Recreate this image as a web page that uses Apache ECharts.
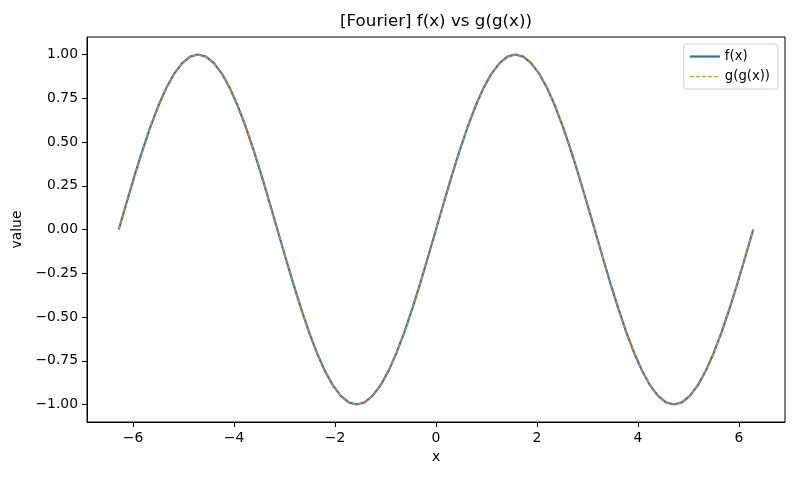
<!DOCTYPE html>
<html>
<head>
<meta charset="utf-8">
<script src="https://cdn.jsdelivr.net/npm/echarts@6/dist/echarts.min.js"></script>
<style>
  html, body { margin: 0; padding: 0; background: #fff; }
  #chart { width: 800px; height: 480px; }
</style>
</head>
<body>
<div id="chart"></div>
<script>
// sample positions along x (about -2pi .. 2pi)
const xs = [-6.283, -6.126, -5.969, -5.812, -5.655, -5.498, -5.341, -5.184, -5.027, -4.869,
  -4.712, -4.555, -4.398, -4.241, -4.084, -3.927, -3.770, -3.613, -3.456, -3.299,
  -3.142, -2.985, -2.827, -2.670, -2.513, -2.356, -2.199, -2.042, -1.885, -1.728,
  -1.571, -1.414, -1.257, -1.100, -0.942, -0.785, -0.628, -0.471, -0.314, -0.157,
  0.000, 0.157, 0.314, 0.471, 0.628, 0.785, 0.942, 1.100, 1.257, 1.414,
  1.571, 1.728, 1.885, 2.042, 2.199, 2.356, 2.513, 2.670, 2.827, 2.985,
  3.142, 3.299, 3.456, 3.613, 3.770, 3.927, 4.084, 4.241, 4.398, 4.555,
  4.712, 4.869, 5.027, 5.184, 5.341, 5.498, 5.655, 5.812, 5.969, 6.126, 6.283];
// values
const fVals = [0.000, 0.156, 0.309, 0.454, 0.588, 0.707, 0.809, 0.891, 0.951, 0.988,
  1.000, 0.988, 0.951, 0.891, 0.809, 0.707, 0.588, 0.454, 0.309, 0.156,
  0.000, -0.156, -0.309, -0.454, -0.588, -0.707, -0.809, -0.891, -0.951, -0.988,
  -1.000, -0.988, -0.951, -0.891, -0.809, -0.707, -0.588, -0.454, -0.309, -0.156,
  0.000, 0.156, 0.309, 0.454, 0.588, 0.707, 0.809, 0.891, 0.951, 0.988,
  1.000, 0.988, 0.951, 0.891, 0.809, 0.707, 0.588, 0.454, 0.309, 0.156,
  0.000, -0.156, -0.309, -0.454, -0.588, -0.707, -0.809, -0.891, -0.951, -0.988,
  -1.000, -0.988, -0.951, -0.891, -0.809, -0.707, -0.588, -0.454, -0.309, -0.156, 0.000];
const ggVals = [0.000, 0.156, 0.309, 0.454, 0.588, 0.707, 0.809, 0.891, 0.951, 0.988,
  1.000, 0.988, 0.951, 0.891, 0.809, 0.707, 0.588, 0.454, 0.309, 0.156,
  0.000, -0.156, -0.309, -0.454, -0.588, -0.707, -0.809, -0.891, -0.951, -0.988,
  -1.000, -0.988, -0.951, -0.891, -0.809, -0.707, -0.588, -0.454, -0.309, -0.156,
  0.000, 0.156, 0.309, 0.454, 0.588, 0.707, 0.809, 0.891, 0.951, 0.988,
  1.000, 0.988, 0.951, 0.891, 0.809, 0.707, 0.588, 0.454, 0.309, 0.156,
  0.000, -0.156, -0.309, -0.454, -0.588, -0.707, -0.809, -0.891, -0.951, -0.988,
  -1.000, -0.988, -0.951, -0.891, -0.809, -0.707, -0.588, -0.454, -0.309, -0.156, 0.000];
const xTicks = [-6, -4, -2, 0, 2, 4, 6];
const yTicks = [-1, -0.75, -0.5, -0.25, 0, 0.25, 0.5, 0.75, 1];

const font = 'DejaVu Sans';
const minus = (s) => s.replace('-', '\u2212');

const chart = echarts.init(document.getElementById('chart'));
const option = {
  animation: false,
  backgroundColor: '#fff',
  textStyle: { fontFamily: font },
  graphic: [{
    type: 'text', x: 436, y: 22,
    style: { text: '[Fourier] f(x) vs g(g(x))', font: '16.7px "DejaVu Sans"', fill: '#000',
      textAlign: 'center', textVerticalAlign: 'middle' }
  }],
  grid: {
    left: 87, right: 15, top: 37, bottom: 58,
    show: true, borderColor: '#000', borderWidth: 1
  },
  legend: {
    orient: 'vertical', right: 22, top: 44,
    padding: [6, 8, 6, 5],
    itemWidth: 30, itemHeight: 14, itemGap: 7,
    borderColor: '#d0d0d0', borderWidth: 1, borderRadius: 3,
    backgroundColor: '#fff',
    itemStyle: { opacity: 0 },
    textStyle: { fontFamily: font, fontSize: 13.2, color: '#000' },
    data: [
      { name: 'f(x)', lineStyle: { width: 2.2 } },
      { name: 'g(g(x))', lineStyle: { width: 1.2 } }
    ]
  },
  xAxis: {
    type: 'value', min: -6.912, max: 6.912,
    name: 'x', nameLocation: 'middle', nameGap: 28,
    nameTextStyle: { fontFamily: font, fontSize: 13.9, color: '#000' },
    splitLine: { show: false },
    axisLine: { onZero: false, lineStyle: { color: '#000', width: 1 } },
    axisTick: { show: true, length: 5, lineStyle: { color: '#000' }, customValues: xTicks },
    axisLabel: { customValues: xTicks, margin: 9, fontSize: 13.9, color: '#000',
      formatter: (v) => minus(String(v)) }
  },
  yAxis: {
    type: 'value', min: -1.1, max: 1.1,
    name: 'value', nameLocation: 'middle', nameGap: 60,
    nameTextStyle: { fontFamily: font, fontSize: 13.9, color: '#000' },
    splitLine: { show: false },
    axisLine: { show: true, onZero: false, lineStyle: { color: '#000', width: 1 } },
    axisTick: { show: true, length: 5, lineStyle: { color: '#000' }, customValues: yTicks },
    axisLabel: { customValues: yTicks, margin: 9, fontSize: 13.9, color: '#000',
      formatter: (v) => minus(v.toFixed(2)) }
  },
  series: [
    {
      name: 'f(x)', type: 'line', smooth: false, symbol: 'none',
      lineStyle: { color: '#1f77b4', width: 2.2 },
      itemStyle: { color: '#1f77b4' },
      data: xs.map((x, i) => [x, fVals[i]])
    },
    {
      name: 'g(g(x))', type: 'line', smooth: false, symbol: 'none',
      lineStyle: { color: '#ff7f0e', width: 1.2, type: [4, 2] },
      itemStyle: { color: '#ff7f0e' },
      data: xs.map((x, i) => [x, ggVals[i]])
    }
  ]
};
chart.setOption(option);
</script>
</body>
</html>
